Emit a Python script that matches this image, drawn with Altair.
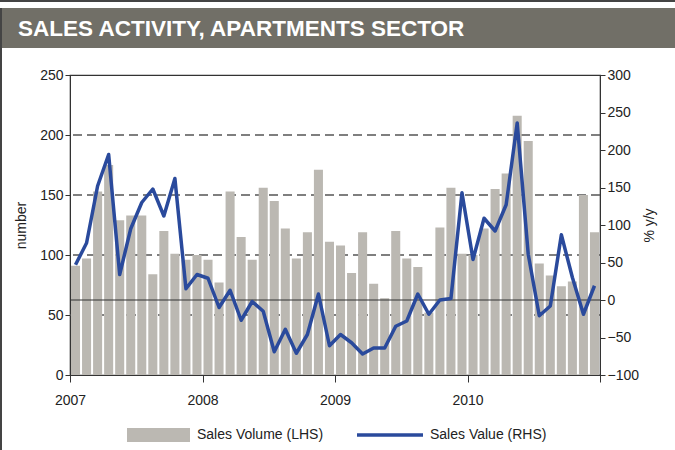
import altair as alt
import pandas as pd

title_text = "SALES ACTIVITY, APARTMENTS SECTOR"
series_names = ["Sales Volume (LHS)", "Sales Value (RHS)"]
year_labels = ["2007", "2008", "2009", "2010"]

# Monthly sales volume (number, LHS), Jan 2007 - Dec 2010
volume = [91, 97, 153, 175, 129, 133, 133, 84, 120, 101, 96, 100,
          96, 77, 153, 115, 96, 156, 145, 122, 97, 119, 171, 111,
          108, 85, 119, 76, 64, 120, 97, 90, 52, 123, 156, 101,
          100, 122, 155, 168, 216, 195, 93, 83, 74, 78, 150, 119]
# Monthly sales value (% y/y, RHS)
value = [47, 76, 152, 194, 34, 95, 130, 148, 112, 162, 15, 34,
         29, -10, 13, -27, -2, -15, -69, -39, -71, -46, 8, -61,
         -46, -57, -72, -64, -64, -35, -28, 8, -19, 0, 2, 143,
         54, 109, 92, 127, 236, 61, -21, -8, 87, 30, -19, 19]

left_ticks = [0, 50, 100, 150, 200, 250]
right_ticks = [-100, -50, 0, 50, 100, 150, 200, 250, 300]
dashed_grid = [100, 150, 200]
dotted_grid = [50]
rhs_zero = [0]

n = len(volume)
df = pd.DataFrame({
    "m": list(range(n)),
    "m2": [i + 1 for i in range(n)],
    "mc": [i + 0.5 for i in range(n)],
    "volume": volume,
    "base": [0] * n,
    "value": value,
})

FONT = "Liberation Sans"
BAR = "#bbb8b2"
BLUE = "#2a4a9c"
BAND = "#716f67"

W, H = 530, 300
xs = alt.Scale(domain=[0, 48], nice=False, zero=False)
ls = alt.Scale(domain=[0, 250], nice=False)
rs = alt.Scale(domain=[-100, 300], nice=False)

label_expr = "datum.value < 48 ? ['" + "','".join(year_labels) + "'][datum.value / 12] : ''"
xaxis = alt.Axis(values=[0, 12, 24, 36, 48], labelExpr=label_expr, title=None,
                 grid=False, tickSize=7, labelPadding=11, labelFontSize=14,
                 labelFont=FONT, labelColor="#222", domainColor="#333",
                 tickColor="#333", labelFlush=False)
laxis = alt.Axis(values=left_ticks, title="number", titleFont=FONT,
                 titleFontSize=14, titleFontWeight="normal", titleColor="#222",
                 titlePadding=11, grid=False, tickSize=5, labelPadding=2,
                 labelFontSize=14, labelFont=FONT, labelColor="#222",
                 domainColor="#333", tickColor="#333")
raxis = alt.Axis(values=right_ticks, orient="right", title="% y/y",
                 titleAngle=270, titleFont=FONT, titleFontSize=14,
                 titleFontWeight="normal", titleColor="#222", titlePadding=18,
                 grid=False, tickSize=5, labelPadding=2, labelFontSize=14,
                 labelFont=FONT, labelColor="#222", domainColor="#333",
                 tickColor="#333")

dash_df = pd.DataFrame({"g": dashed_grid})
dot_df = pd.DataFrame({"g": dotted_grid})
zero_df = pd.DataFrame({"g": rhs_zero})

grid_dash = alt.Chart(dash_df).mark_rule(color="#555", strokeDash=[9, 5], strokeWidth=1.3).encode(
    y=alt.Y("g:Q", scale=ls, axis=laxis))
grid_dot = alt.Chart(dot_df).mark_rule(color="#555", strokeDash=[2, 6], strokeWidth=1.3).encode(
    y=alt.Y("g:Q", scale=ls, axis=laxis))

bars = alt.Chart(df).mark_bar(color=BAR, xOffset=1, x2Offset=-1).encode(
    x=alt.X("m:Q", scale=xs, axis=xaxis),
    x2="m2:Q",
    y=alt.Y("volume:Q", scale=ls, axis=laxis),
    y2="base:Q",
)

zero_line = alt.Chart(zero_df).mark_rule(color="#333", strokeWidth=1.2).encode(
    y=alt.Y("g:Q", scale=rs, axis=raxis))

line = alt.Chart(df).mark_line(color=BLUE, strokeWidth=3.5, strokeJoin="round").encode(
    x=alt.X("mc:Q", scale=xs, axis=xaxis),
    y=alt.Y("value:Q", scale=rs, axis=raxis),
)

left = alt.layer(grid_dash, grid_dot, bars)
right = alt.layer(zero_line, line)

# decorations: title band, frame lines, legend
one = pd.DataFrame({"t": [title_text]})
band = alt.Chart(one).mark_rect(color=BAND).encode(
    x=alt.value(-70), x2=alt.value(606), y=alt.value(-67), y2=alt.value(-27))
topline = alt.Chart(one).mark_rule(color="#444", strokeWidth=2).encode(
    x=alt.value(-70), x2=alt.value(606), y=alt.value(-74))
leftline = alt.Chart(one).mark_rule(color="#444", strokeWidth=2).encode(
    x=alt.value(-69), y=alt.value(-67), y2=alt.value(376))
title = alt.Chart(one).mark_text(color="white", font=FONT, fontWeight="bold",
                                 fontSize=22.5, align="left", baseline="middle").encode(
    x=alt.value(-52), y=alt.value(-46), text="t:N")

leg1 = pd.DataFrame({"t": [series_names[0]]})
leg2 = pd.DataFrame({"t": [series_names[1]]})
leg_rect = alt.Chart(leg1).mark_rect(color=BAR).encode(
    x=alt.value(57), x2=alt.value(120), y=alt.value(353), y2=alt.value(367))
leg_txt1 = alt.Chart(leg1).mark_text(font=FONT, fontSize=14, align="left", baseline="middle",
                                     color="#222").encode(
    x=alt.value(127), y=alt.value(360), text="t:N")
leg_line = alt.Chart(leg2).mark_rule(color=BLUE, strokeWidth=3.5).encode(
    x=alt.value(287), x2=alt.value(353), y=alt.value(360))
leg_txt2 = alt.Chart(leg2).mark_text(font=FONT, fontSize=14, align="left", baseline="middle",
                                     color="#222").encode(
    x=alt.value(360), y=alt.value(360), text="t:N")

deco = alt.layer(band, topline, leftline, title, leg_rect, leg_txt1, leg_line, leg_txt2)

chart = alt.layer(left, right, deco).resolve_scale(y="independent").properties(
    width=W, height=H,
    autosize=alt.AutoSizeParams(type="none"),
    padding={"left": 70, "top": 75, "right": 75, "bottom": 75},
    background="white",
).configure_view(stroke="#333", strokeWidth=1.2)

chart.save("out.html", embed_options={"renderer": "svg", "actions": False})
